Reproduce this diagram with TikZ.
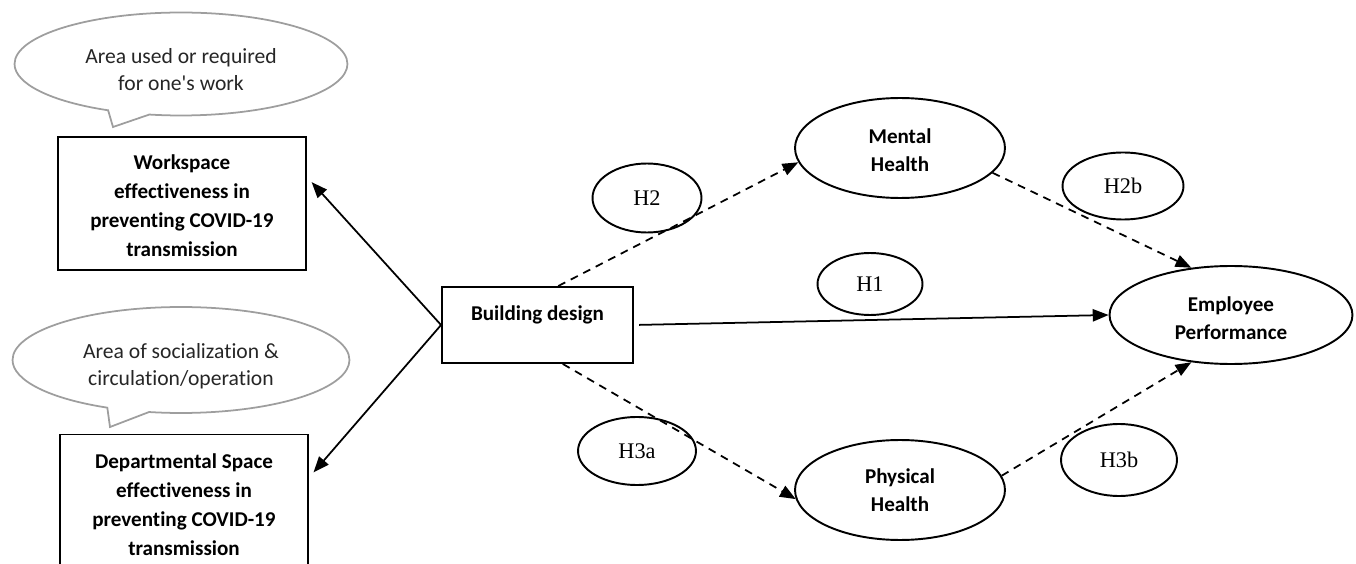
\documentclass[tikz,border=0pt]{standalone}
\usepackage{fontspec}
\setmainfont{Carlito}[Ligatures=NoCommon]
\newfontfamily\hypfont{Liberation Serif}
\usetikzlibrary{arrows.meta,shapes.geometric,shapes.callouts}

\begin{document}
\begin{tikzpicture}[x=0.02cm, y=-0.02cm,
	concept/.style={draw, line width=1.1pt, align=center, inner sep=0pt, font=\fontsize{12}{16.5}\selectfont\bfseries},
	latent/.style={ellipse, draw, line width=1.1pt, align=center, inner sep=0pt, font=\fontsize{12}{16}\selectfont\bfseries},
	hyp/.style={ellipse, draw, line width=1.1pt, inner sep=0pt, font=\fontsize{12.7}{14}\hypfont},
	note/.style={ellipse callout, draw=black!38, line width=1pt, align=center, inner sep=0pt, text=black!85, font=\fontsize{12.3}{15.5}\selectfont},
	effect/.style={line width=1pt, -{Triangle[length=9pt,width=7pt]}},
	mediated/.style={effect, dash pattern=on 4.5pt off 3.5pt}]
		%%%%% START %%%%%
		
		\useasboundingbox (0, 0) rectangle (1356, 564);
		
		% speech bubbles
		\node[note, minimum width=6.66cm, minimum height=2.06cm, callout absolute pointer={(113, 127)}] (note1) at (181, 64) {\rule{0pt}{15pt}Area used or required\\for one\textquotesingle s work};
		\node[note, minimum width=6.74cm, minimum height=2.12cm, callout absolute pointer={(110, 427)}] (note2) at (181, 360) {\rule{0pt}{15.5pt}Area of socialization \&\\circulation/operation};
		
		% constructs
		\node[concept, minimum width=4.96cm, minimum height=2.66cm] (ws) at (182, 203.5) {\rule{0pt}{11pt}Workspace\\effectiveness in\\preventing COVID-19\\transmission};
		\node[concept, minimum width=4.96cm, minimum height=2.7cm] (dept) at (184, 502) {\rule{0pt}{11pt}Departmental Space\\effectiveness in\\preventing COVID-19\\transmission};
		\node[concept, minimum width=3.82cm, minimum height=1.52cm] (bd) at (537.5, 325) {\rule{0pt}{11pt}Building design\\~};
		
		\node[latent, minimum width=4.2cm, minimum height=2cm] (mh) at (900, 148) {\rule{0pt}{11pt}Mental\\Health};
		\node[latent, minimum width=4.2cm, minimum height=2cm] (ph) at (900, 490) {Physical\\Health};
		\node[latent, minimum width=4.86cm, minimum height=1.96cm] (ep) at (1231, 315) {\rule{0pt}{12pt}Employee\\Performance};
		
		% hypotheses
		\node[hyp, minimum width=2.18cm, minimum height=1.38cm] (h2) at (647, 198) {H2};
		\node[hyp, minimum width=2.1cm, minimum height=1.24cm] (h1) at (870, 284) {H1};
		\node[hyp, minimum width=2.36cm, minimum height=1.36cm] (h3a) at (637, 451) {H3a};
		\node[hyp, minimum width=2.42cm, minimum height=1.34cm] (h2b) at (1123, 186) {H2b};
		\node[hyp, minimum width=2.32cm, minimum height=1.44cm] (h3b) at (1119, 460) {H3b};
		
		% paths
		\draw[effect, shorten >=4pt] (bd.west) -- (ws.12);
		\draw[effect, shorten >=4pt] (bd.west) -- (dept.11);
		\draw[effect, shorten <=3pt] (bd.east) -- (ep.west);
		
		\draw[mediated] (bd.62) -- (mh.188);
		\draw[mediated] (bd.-57) -- (ph.185);
		\draw[mediated] (mh.-15) -- (ep.130);
		\draw[mediated] (ph.8) -- (ep.230);
		
		%%%%% END %%%%%
\end{tikzpicture}
\end{document}
